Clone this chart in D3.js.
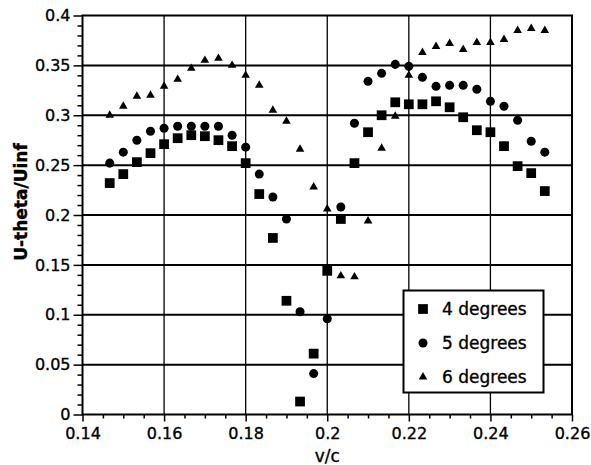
<!DOCTYPE html>
<html>
<head>
<meta charset="utf-8">
<script src="https://cdn.jsdelivr.net/npm/d3@7.9.0/dist/d3.min.js"></script>
<style>
  body { margin: 0; background: #fff; }
  svg { display: block; font-family: "DejaVu Sans", sans-serif; }
  svg text { stroke: #000; stroke-width: 0.35px; }
</style>
</head>
<body>
<div id="chart"></div>
<script>
// v/c values (shared by all three series)
const vc = [0.14667, 0.15, 0.15333, 0.15667, 0.16, 0.16333, 0.16667, 0.17, 0.17333, 0.17667,
  0.18, 0.18333, 0.18667, 0.19, 0.19333, 0.19667, 0.2, 0.20333, 0.20667, 0.21,
  0.21333, 0.21667, 0.22, 0.22333, 0.22667, 0.23, 0.23333, 0.23667, 0.24, 0.24333,
  0.24667, 0.25, 0.25333];

const deg4 = [0.232, 0.241, 0.253, 0.262, 0.271, 0.277, 0.280, 0.279, 0.275, 0.269,
  0.252, 0.221, 0.177, 0.114, 0.013, 0.061, 0.144, 0.196, 0.252, 0.283,
  0.300, 0.313, 0.311, 0.311, 0.314, 0.308, 0.298, 0.285, 0.283, 0.269,
  0.249, 0.242, 0.224];

const deg5 = [0.252, 0.263, 0.275, 0.284, 0.287, 0.289, 0.289, 0.289, 0.289, 0.280,
  0.268, 0.241, 0.218, 0.196, 0.103, 0.041, 0.096, 0.208, 0.292, 0.334,
  0.342, 0.351, 0.349, 0.338, 0.329, 0.330, 0.330, 0.326, 0.314, 0.309,
  0.295, 0.274, 0.263];

const deg6 = [0.300, 0.309, 0.319, 0.320, 0.329, 0.336, 0.347, 0.355, 0.357, 0.350,
  0.340, 0.330, 0.305, 0.294, 0.266, 0.228, 0.206, 0.139, 0.138, 0.194,
  0.267, 0.299, 0.340, 0.363, 0.369, 0.372, 0.366, 0.373, 0.373, 0.376,
  0.385, 0.387, 0.385];

const xTicks = [0.14, 0.16, 0.18, 0.2, 0.22, 0.24, 0.26];
const yTicks = [0, 0.05, 0.1, 0.15, 0.2, 0.25, 0.3, 0.35, 0.4];
const legendLabels = ["4 degrees", "5 degrees", "6 degrees"];

const W = 591, H = 465;
const PLOT = { left: 82.5, right: 572, top: 15.5, bottom: 414.5 };

const svg = d3.select("#chart").append("svg")
  .attr("width", W)
  .attr("height", H);

const x = d3.scaleLinear().domain([0.14, 0.26]).range([PLOT.left, PLOT.right]);
const y = d3.scaleLinear().domain([0, 0.4]).range([PLOT.bottom, PLOT.top]);

// grid lines
svg.append("g")
  .selectAll("line")
  .data(xTicks.slice(1, -1))
  .join("line")
  .attr("x1", d => x(d)).attr("x2", d => x(d))
  .attr("y1", PLOT.top).attr("y2", PLOT.bottom)
  .attr("stroke", "#000")
  .attr("stroke-width", 1.3);

svg.append("g")
  .selectAll("line")
  .data(yTicks.slice(1, -1))
  .join("line")
  .attr("x1", PLOT.left).attr("x2", PLOT.right)
  .attr("y1", d => y(d)).attr("y2", d => y(d))
  .attr("stroke", "#000")
  .attr("stroke-width", 2);

// minor ticks
const xMinor = d3.range(0.145, 0.26, 0.005).filter(v => Math.abs(v * 50 - Math.round(v * 50)) > 1e-6);
const yMinor = d3.range(0.01, 0.4, 0.01).filter(v => Math.abs(v * 20 - Math.round(v * 20)) > 1e-6);

svg.append("g")
  .attr("transform", `translate(0,${PLOT.bottom})`)
  .call(d3.axisBottom(x).tickValues(xMinor).tickSize(4).tickFormat(""))
  .call(g => g.select(".domain").remove())
  .selectAll("line").attr("stroke-width", 1.5);

svg.append("g")
  .attr("transform", `translate(${PLOT.left},0)`)
  .call(d3.axisLeft(y).tickValues(yMinor).tickSize(5).tickFormat(""))
  .call(g => g.select(".domain").remove())
  .selectAll("line").attr("stroke-width", 1.5);

// major axes
const xAxis = svg.append("g")
  .attr("transform", `translate(0,${PLOT.bottom})`)
  .call(d3.axisBottom(x).tickValues(xTicks).tickSize(7).tickPadding(6)
    .tickFormat(d => d === 0.2 ? "0.2" : d.toFixed(2)));
xAxis.select(".domain").remove();
xAxis.selectAll("line").attr("stroke-width", 1.5);
xAxis.selectAll("text").attr("font-size", 16).attr("font-family", "DejaVu Sans").attr("fill", "#000");

const yAxis = svg.append("g")
  .attr("transform", `translate(${PLOT.left},0)`)
  .call(d3.axisLeft(y).tickValues(yTicks).tickSize(9).tickPadding(3)
    .tickFormat(d => d === 0 ? "0" : String(+d.toFixed(2))));
yAxis.select(".domain").remove();
yAxis.selectAll("line").attr("stroke-width", 1.5);
yAxis.selectAll("text").attr("font-size", 16).attr("font-family", "DejaVu Sans").attr("fill", "#000");

// frame
svg.append("rect")
  .attr("x", PLOT.left).attr("y", PLOT.top)
  .attr("width", PLOT.right - PLOT.left)
  .attr("height", PLOT.bottom - PLOT.top)
  .attr("fill", "none")
  .attr("stroke", "#000")
  .attr("stroke-width", 2);

// points
const series = [
  { vals: deg4, sym: d3.symbolSquare, size: 95 },
  { vals: deg5, sym: d3.symbolCircle, size: 64 },
  { vals: deg6, sym: d3.symbolTriangle, size: 32 }
];

series.forEach(s => {
  const sym = d3.symbol().type(s.sym).size(s.size);
  svg.append("g")
    .selectAll("path")
    .data(s.vals.map((v, i) => [vc[i], v]))
    .join("path")
    .attr("transform", d => `translate(${x(d[0])},${y(d[1])})`)
    .attr("d", sym)
    .attr("fill", "#000");
});

// legend
const legend = svg.append("g");
legend.append("rect")
  .attr("x", 403.5).attr("y", 290.5)
  .attr("width", 140).attr("height", 102)
  .attr("fill", "#fff")
  .attr("stroke", "#000")
  .attr("stroke-width", 2);

legendLabels.forEach((label, i) => {
  const cy = 309 + i * 34;
  legend.append("path")
    .attr("transform", `translate(423,${cy})`)
    .attr("d", d3.symbol().type(series[i].sym).size(series[i].size)())
    .attr("fill", "#000");
  legend.append("text")
    .attr("x", 442)
    .attr("y", cy + 6)
    .attr("font-size", 17)
    .text(label);
});

// axis titles
svg.append("text")
  .attr("x", x(0.2))
  .attr("y", 462)
  .attr("text-anchor", "middle")
  .attr("font-size", 17)
  .text("v/c");

svg.append("text")
  .attr("transform", "translate(27,202) rotate(-90)")
  .attr("text-anchor", "middle")
  .attr("font-size", 17)
  .attr("font-weight", "bold")
  .text("U-theta/Uinf");
</script>
</body>
</html>
